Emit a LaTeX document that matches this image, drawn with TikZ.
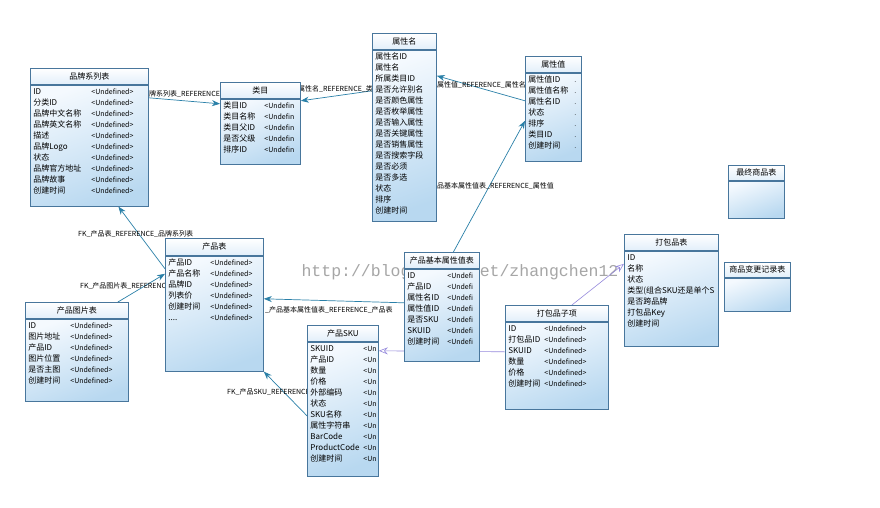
\documentclass[tikz,border=0pt]{standalone}
\usepackage{fontspec}
\setmainfont{Noto Sans CJK SC}
\newfontfamily\wmfont{Liberation Mono}
\usepackage{tikz}
\usetikzlibrary{arrows.meta, positioning, backgrounds}

\definecolor{tblline}{RGB}{72,118,156}
\definecolor{tbltop}{RGB}{244,249,254}
\definecolor{tblbot}{RGB}{184,216,240}
\definecolor{fkcol}{RGB}{42,128,168}
\definecolor{pkcol}{RGB}{150,138,220}

% value column of the tables
\newcommand{\ud}{{\fontsize{7}{11}\selectfont<Undefined>}}
\newcommand{\vc}[1]{{\fontsize{7}{11}\selectfont #1}}
% body of a table: width, height, column spec, rows
\newcommand{\fields}[4]{\parbox[c][#2pt][t]{#1pt}{\vspace*{2pt}%
  \fontsize{8}{11}\selectfont\begin{tabular}{@{}#3@{}}#4\end{tabular}}}

\begin{document}
\begin{tikzpicture}[x=1pt, y=-1pt,
  head/.style={draw=tblline, line width=0.8pt, anchor=north west,
               top color=white, bottom color=tbltop!70!tblbot,
               minimum height=16pt, inner sep=0pt, font=\fontsize{8}{10}\selectfont},
  body/.style={draw=tblline, line width=0.8pt, anchor=north,
               top color=tbltop, bottom color=tblbot, shading angle=20,
               inner xsep=3pt, inner ysep=0pt},
  fk/.style={draw=fkcol, line width=0.7pt, -{Stealth[length=8pt, width=6pt]}},
  pk/.style={draw=pkcol, line width=0.6pt, -{Stealth[open, length=9pt, width=7pt]}},
  lbl/.style={anchor=west, inner sep=0pt, font=\fontsize{7}{8}\selectfont},
  wm/.style={font=\wmfont\fontsize{16.5}{18}\selectfont, text=gray!70},
]
\useasboundingbox (0,0) rectangle (880,507);

% tables
\node[head, minimum width=118pt] (ppxl-h) at (30,68) {品牌系列表};
\node[body, below=0pt of ppxl-h] (ppxl) {\fields{112}{121}{p{58pt}@{}l}{%
  ID & \ud\\ 分类ID & \ud\\ 品牌中文名称 & \ud\\ 品牌英文名称 & \ud\\ 描述 & \ud\\
  品牌Logo & \ud\\ 状态 & \ud\\ 品牌官方地址 & \ud\\ 品牌故事 & \ud\\ 创建时间 & \ud}};

\node[head, minimum width=80pt] (lm-h) at (220,82) {类目};
\node[body, below=0pt of lm-h] (lm) {\fields{74}{65}{p{41pt}@{}l}{%
  类目ID & \vc{<Undefin}\\ 类目名称 & \vc{<Undefin}\\ 类目父ID & \vc{<Undefin}\\
  是否父级 & \vc{<Undefin}\\ 排序ID & \vc{<Undefin}}};

\node[head, minimum width=64pt] (sxm-h) at (372,33) {属性名};
\node[body, below=0pt of sxm-h] (sxm) {\fields{58}{171}{l}{%
  属性名ID\\ 属性名\\ 所属类目ID\\ 是否允许别名\\ 是否颜色属性\\ 是否枚举属性\\
  是否输入属性\\ 是否关键属性\\ 是否销售属性\\ 是否搜索字段\\ 是否必须\\ 是否多选\\
  状态\\ 排序\\ 创建时间}};

\node[head, minimum width=56pt] (sxz-h) at (525,56) {属性值};
\node[body, below=0pt of sxz-h] (sxz) {\fields{50}{88}{p{46pt}@{}l}{%
  属性值ID & \vc{.}\\ 属性值名称 & \vc{.}\\ 属性名ID & \vc{.}\\ 状态 & \vc{.}\\
  排序 & \vc{.}\\ 类目ID & \vc{.}\\ 创建时间 & \vc{.}}};

\node[head, minimum width=98pt, minimum height=17pt] (cpb-h) at (165,238) {产品表};
\node[body, below=0pt of cpb-h] (cpb) {\fields{92}{115}{p{42pt}@{}l}{%
  产品ID & \ud\\ 产品名称 & \ud\\ 品牌ID & \ud\\ 列表价 & \ud\\ 创建时间 & \ud\\
  .... & \ud}};

\node[head, minimum width=103pt] (cptp-h) at (25,302) {产品图片表};
\node[body, below=0pt of cptp-h] (cptp) {\fields{97}{82}{p{42pt}@{}l}{%
  ID & \ud\\ 图片地址 & \ud\\ 产品ID & \ud\\ 图片位置 & \ud\\ 是否主图 & \ud\\
  创建时间 & \ud}};

\node[head, minimum width=71pt] (sku-h) at (307,325) {产品SKU};
\node[body, below=0pt of sku-h] (sku) {\fields{65}{134}{p{53pt}@{}l}{%
  SKUID & \vc{<Un}\\ 产品ID & \vc{<Un}\\ 数量 & \vc{<Un}\\ 价格 & \vc{<Un}\\
  外部编码 & \vc{<Un}\\ 状态 & \vc{<Un}\\ SKU名称 & \vc{<Un}\\ 属性字符串 & \vc{<Un}\\
  BarCode & \vc{<Un}\\ ProductCode & \vc{<Un}\\ 创建时间 & \vc{<Un}}};

\node[head, minimum width=75pt] (cpjb-h) at (404,252) {产品基本属性值表};
\node[body, below=0pt of cpjb-h] (cpjb) {\fields{69}{92}{p{40pt}@{}l}{%
  ID & \vc{<Undefi}\\ 产品ID & \vc{<Undefi}\\ 属性名ID & \vc{<Undefi}\\
  属性值ID & \vc{<Undefi}\\ 是否SKU & \vc{<Undefi}\\ SKUID & \vc{<Undefi}\\
  创建时间 & \vc{<Undefi}}};

\node[head, minimum width=103pt] (dbzx-h) at (505,305) {打包品子项};
\node[body, below=0pt of dbzx-h] (dbzx) {\fields{97}{87}{p{36pt}@{}l}{%
  ID & \ud\\ 打包品ID & \ud\\ SKUID & \ud\\ 数量 & \ud\\ 价格 & \ud\\ 创建时间 & \ud}};

\node[head, minimum width=94pt] (dbp-h) at (624,234) {打包品表};
\node[body, below=0pt of dbp-h] (dbp) {\fields{88}{95}{l}{%
  ID\\ 名称\\ 状态\\ 类型(组合SKU还是单个S\\ 是否跨品牌\\ 打包品Key\\ 创建时间}};

\node[head, minimum width=56pt, minimum height=15pt] (zzsp-h) at (728,165) {最终商品表};
\node[body, below=0pt of zzsp-h, minimum width=56pt, minimum height=37pt] (zzsp) {};

\node[head, minimum width=66pt, minimum height=15pt] (spbg-h) at (724,262) {商品变更记录表};
\node[body, below=0pt of spbg-h, minimum width=66pt, minimum height=33pt] (spbg) {};

% references and watermark, under the tables
\begin{scope}[on background layer]
\fill[white] (0,0) rectangle (880,507);
\node[wm] (mark) at (460,272) {http://blog.csdn.net/zhangchen12};
\draw[fk] ([yshift=-13pt]ppxl.north east) -- ([yshift=-5pt]lm.north west);
\draw[fk] ([yshift=-41pt]sxm.north west) -- ([yshift=-2pt]lm.north east);
\draw[fk] ([yshift=-28pt]sxz.north west) -- ([yshift=-26pt]sxm.north east);
\draw[fk] ([xshift=11.5pt]cpjb-h.north) -- ([yshift=-48pt]sxz.north west);
\draw[fk] ([yshift=-13pt]cpb.north west) -- ([xshift=29pt]ppxl.south);
\draw[fk] ([xshift=41pt]cptp-h.north) -- ([yshift=-18pt]cpb.north west);
\draw[fk] ([yshift=-34pt]cpjb.north west) -- ([yshift=-43pt]cpb.north east);
\draw[fk] ([yshift=-74pt]sku.north west) -- (cpb.south east);
\draw[pk] ([yshift=-30pt]dbzx.north west) -- ([yshift=-9pt]sku.north east);
\draw[pk] ([xshift=15pt]dbzx-h.north) -- ([yshift=-13pt]dbp.north west);

\node[lbl] (l-ppxl) at (149,94) {牌系列表\_REFERENCE};
\node[lbl] (l-lm) at (298,89) {属性名\_REFERENCE\_类};
\node[lbl] (l-sxm) at (437,85) {属性值\_REFERENCE\_属性名};
\node[lbl] (l-sxz) at (437,186) {品基本属性值表\_REFERENCE\_属性值};
\node[lbl] (l-cpb) at (78,234) {FK\_产品表\_REFERENCE\_品牌系列表};
\node[lbl] (l-cptp) at (80,286) {FK\_产品图片表\_REFERENCE};
\node[lbl] (l-cpjb) at (265,310) {\_产品基本属性值表\_REFERENCE\_产品表};
\node[lbl] (l-sku) at (227,392) {FK\_产品SKU\_REFERENCE};
\end{scope}
\end{tikzpicture}
\end{document}
